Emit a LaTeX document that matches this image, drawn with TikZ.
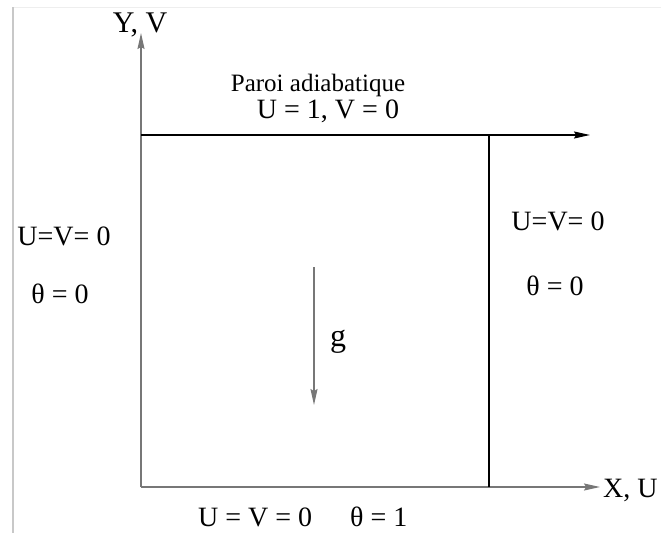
\documentclass[tikz,border=0pt]{standalone}
\usepackage{fontspec}
\setmainfont{Liberation Serif}
\usetikzlibrary{arrows.meta}
\definecolor{axisgray}{HTML}{777777}
\definecolor{framegray}{HTML}{C8C8C8}
\definecolor{frametop}{HTML}{EEEEEE}
\begin{document}
\begin{tikzpicture}[x=1pt,y=-1pt,
  lbl/.style={inner sep=0pt,anchor=base,font=\fontsize{28}{30}\selectfont},
  arr/.style={line width=1.3pt,-{Stealth[length=16pt,width=7pt,inset=2pt]}},
  wall/.style={line width=1.3pt,black}]
\useasboundingbox (0,0) rectangle (661,533);
% outer frame traces
\draw[frametop,line width=1pt] (13,7) -- (661,7);
\draw[framegray,line width=1.3pt] (13,7) -- (13,533);
% key points
\coordinate (O) at (141,487);
\coordinate (Ytip) at (141,33);
\coordinate (TL) at (141,135);
\coordinate (Ttip) at (590,135);
\coordinate (TR) at (489,135);
\coordinate (BR) at (489,487);
\coordinate (Xtip) at (600,487);
\coordinate (G1) at (314,267);
\coordinate (G2) at (314,405);
% axes and walls
\draw[arr,axisgray] (O) -- (Ytip);
\draw[arr,axisgray] (O) -- (Xtip);
\draw[arr,black] (TL) -- (Ttip);
\draw[wall] (TR) -- (BR);
\draw[arr,axisgray] (G1) -- (G2);
% labels
\node[lbl,font=\fontsize{30}{30}\selectfont] (yv) at (140,32) {Y, V};
\node[lbl,font=\fontsize{25}{30}\selectfont] (paroi) at (318,91) {Paroi adiabatique};
\node[lbl] (utop) at (328,118) {U = 1, V = 0};
\node[lbl] (uvl) at (64,245) {U=V= 0};
\node[lbl] (thl) at (60,303) {θ = 0};
\node[lbl] (uvr) at (558,230) {U=V= 0};
\node[lbl] (thr) at (555,295) {θ = 0};
\node[lbl,font=\fontsize{32}{32}\selectfont] (g) at (338,346) {g};
\node[lbl,anchor=base west] (xu) at (603,497) {X, U};
\node[lbl,anchor=base west] (uvb) at (198,526) {U = V = 0};
\node[lbl,anchor=base west] (thb) at (350,526) {θ = 1};
\end{tikzpicture}
\end{document}
